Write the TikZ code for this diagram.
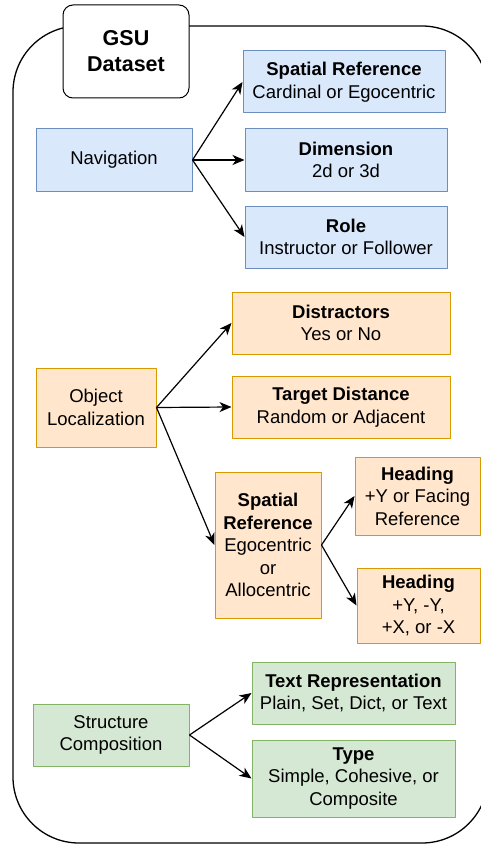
\documentclass[tikz,border=0pt]{standalone}
\usepackage{fontspec}
\setmainfont{Liberation Sans}
\usetikzlibrary{arrows.meta}
\definecolor{bluefill}{HTML}{DAE8FC}
\definecolor{blueline}{HTML}{6C8EBF}
\definecolor{orangefill}{HTML}{FFE6CC}
\definecolor{orangeline}{HTML}{D79B00}
\definecolor{greenfill}{HTML}{D5E8D4}
\definecolor{greenline}{HTML}{82B366}
\tikzset{
  box/.style={draw, line width=1pt, inner sep=0pt, align=center,
    font=\fontsize{18.5}{22.5}\selectfont},
  navbox/.style={box, fill=bluefill, draw=blueline},
  locbox/.style={box, fill=orangefill, draw=orangeline},
  strbox/.style={box, fill=greenfill, draw=greenline},
  link/.style={line width=1.2pt, -{Stealth[length=12pt, width=10pt, inset=3.5pt]}}
}
\begin{document}
\begin{tikzpicture}[x=1pt, y=-1pt, line join=round]
		\useasboundingbox (0,0) rectangle (481,845);
		\clip (0,0) rectangle (481,845);
		
		% Outer frame and title
		\draw[line width=1.3pt, rounded corners=66pt] (13,26) rectangle (488,843);
		\node[box, fill=white, rounded corners=10pt, minimum width=126pt, minimum height=93pt,
		  font=\fontsize{21.5}{26}\selectfont\bfseries] (gsu) at (126,51.5) {GSU\\Dataset};
		
		% Navigation branch
		\node[navbox, minimum width=156pt, minimum height=62pt] (nav) at (114,160) {Navigation};
		\node[navbox, minimum width=202pt, minimum height=62pt] (navref) at (344,82)
		  {\textbf{Spatial Reference}\\Cardinal or Egocentric};
		\node[navbox, minimum width=202pt, minimum height=62pt] (navdim) at (346,160)
		  {\textbf{Dimension}\\2d or 3d};
		\node[navbox, minimum width=202pt, minimum height=62pt] (navrole) at (346,237)
		  {\textbf{Role}\\Instructor or Follower};
		
		% Object localization branch
		\node[locbox, minimum width=120pt, minimum height=79pt] (loc) at (96,407.5) {Object\\Localization};
		\node[locbox, minimum width=218pt, minimum height=62pt] (locdis) at (341,323)
		  {\textbf{Distractors}\\Yes or No};
		\node[locbox, minimum width=218pt, minimum height=62pt] (locdist) at (341,407)
		  {\textbf{Target Distance}\\Random or Adjacent};
		\node[locbox, minimum width=106pt, minimum height=146pt] (locref) at (268,545)
		  {\textbf{Spatial}\\\textbf{Reference}\\Egocentric\\or\\Allocentric};
		\node[locbox, minimum width=125pt, minimum height=78pt] (headA) at (417.5,496)
		  {\textbf{Heading}\\+Y or Facing\\Reference};
		\node[locbox, minimum width=123pt, minimum height=75pt] (headB) at (418.5,605.5)
		  {\textbf{Heading}\\+Y, -Y,\\+X, or -X};
		
		% Structure composition branch
		\node[strbox, minimum width=156pt, minimum height=62pt] (str) at (111,735) {Structure\\Composition};
		\node[strbox, minimum width=203pt, minimum height=62pt] (strtext) at (353.5,693)
		  {\textbf{Text Representation}\\Plain, Set, Dict, or Text};
		\node[strbox, minimum width=203pt, minimum height=77pt] (strtype) at (353.5,778.5)
		  {\textbf{Type}\\Simple, Cohesive, or\\Composite};
		
		% Connectors
		\foreach \to in {navref, navdim, navrole}
		  \draw[link] (nav.east) -- (\to.west);
		\foreach \to in {locdis, locdist, locref}
		  \draw[link] (loc.east) -- (\to.west);
		\foreach \to in {headA, headB}
		  \draw[link] (locref.east) -- (\to.west);
		\foreach \to in {strtext, strtype}
		  \draw[link] (str.east) -- (\to.west);
\end{tikzpicture}
\end{document}
